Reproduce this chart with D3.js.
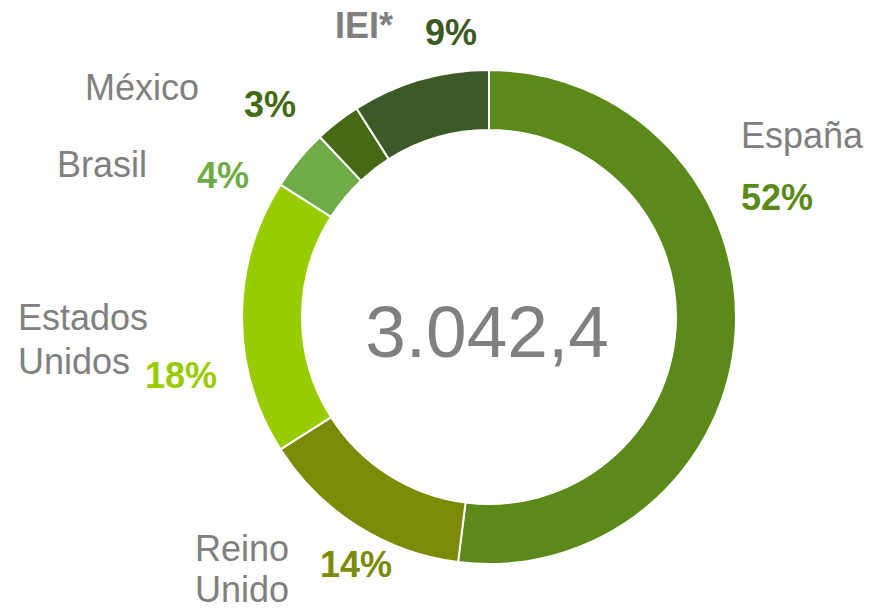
<!DOCTYPE html>
<html>
<head>
<meta charset="utf-8">
<script src="https://cdn.jsdelivr.net/npm/d3@7"></script>
<style>
  body { margin: 0; background: #fff; }
  text { font-family: "Liberation Sans", Arial, sans-serif; }
</style>
</head>
<body>
<div id="chart"></div>
<script>
// data
const categories = ["España", "Reino Unido", "Estados Unidos", "Brasil", "México", "IEI*"];
const values = [52, 14, 18, 4, 3, 9];
const total = "3.042,4";

// colours of the slices
const colors = ["#5b8a1b", "#7b8a07", "#99cc00", "#6fac47", "#466a14", "#3b5a25"];

// where each label sits (name lines, then the percent)
const labelLayout = [
  { name: [[741, 148]], pct: [741, 210], bold: false },
  { name: [[195, 561], [195, 602]], pct: [320, 577], bold: false },
  { name: [[18, 330], [18, 374]], pct: [145, 388], bold: false },
  { name: [[57, 177]], pct: [197, 188], bold: false },
  { name: [[85, 100]], pct: [244, 117], bold: false },
  { name: [[335, 38]], pct: [425, 45], bold: true }
];
const nameLines = [["España"], ["Reino", "Unido"], ["Estados", "Unidos"], ["Brasil"], ["México"], ["IEI*"]];

const width = 869, height = 610;
const cx = 489, cy = 317;
const outerR = 247, innerR = 187;

const svg = d3.select("#chart")
  .append("svg")
  .attr("width", width)
  .attr("height", height);

const color = d3.scaleOrdinal().domain(categories).range(colors);

const pie = d3.pie().sort(null).value(function (d) { return d; });
const arc = d3.arc().innerRadius(innerR).outerRadius(outerR);

const g = svg.append("g").attr("transform", `translate(${cx}, ${cy})`);

g.selectAll("path")
  .data(pie(values))
  .enter()
  .append("path")
  .attr("d", arc)
  .attr("fill", function (d, i) { return color(categories[i]); })
  .attr("stroke", "#fff")
  .attr("stroke-width", 2);

// total in the middle
svg.append("text")
  .attr("x", cx - 2)
  .attr("y", 357)
  .attr("text-anchor", "middle")
  .attr("fill", "#808080")
  .style("font-size", "73px")
  .text(total);

// labels
categories.forEach(function (c, i) {
  const lay = labelLayout[i];
  nameLines[i].forEach(function (line, j) {
    svg.append("text")
      .attr("x", lay.name[j][0])
      .attr("y", lay.name[j][1])
      .attr("fill", "#808080")
      .style("font-size", "36px")
      .style("font-weight", lay.bold ? "bold" : "normal")
      .text(line);
  });
  svg.append("text")
    .attr("x", lay.pct[0])
    .attr("y", lay.pct[1])
    .attr("fill", color(c))
    .style("font-size", "36px")
    .style("font-weight", "bold")
    .text(values[i] + "%");
});
</script>
</body>
</html>
